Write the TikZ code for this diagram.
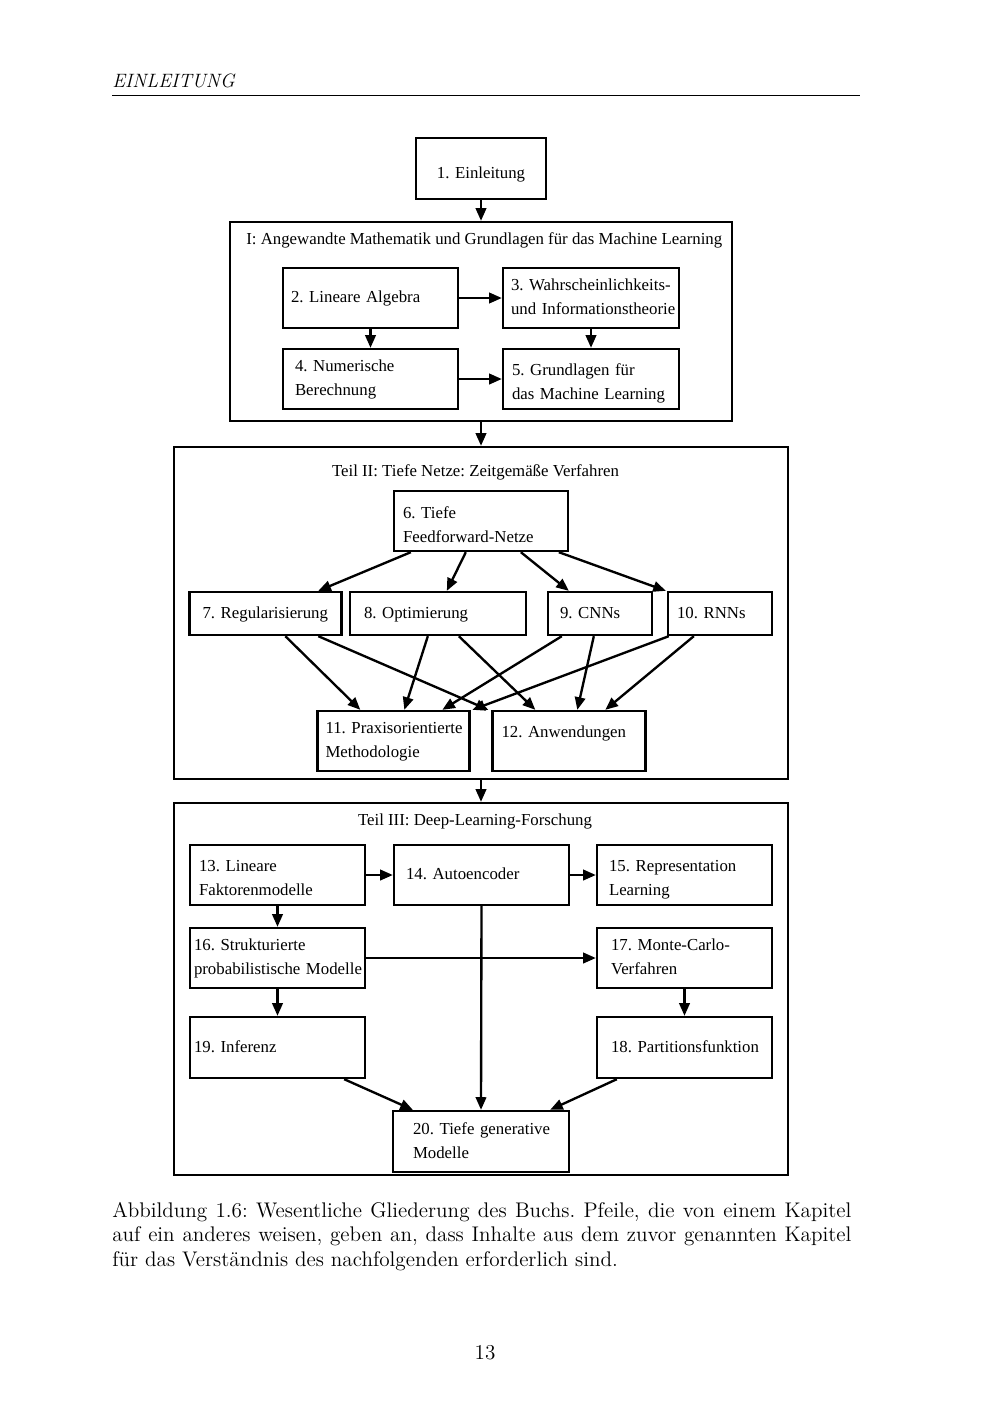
\documentclass[tikz,border=0pt]{standalone}
\usepackage{fontspec}
\newfontfamily\diafont{Liberation Serif}
\usepackage{tikz}
\usetikzlibrary{calc,positioning}
\usetikzlibrary{arrows.meta}
\tikzset{>={Triangle[width=6.2pt,length=7.5pt]}}
\newcommand{\kpx}{0.020916cm}
\frenchspacing

\begin{document}
\begin{tikzpicture}[x=0.020916cm, y=-0.020916cm]
  \tikzstyle{kbox} = [draw, line width=1.4pt, align=left, inner ysep=0pt, font=\diafont\fontsize{10}{14.2}\selectfont]
  \tikzstyle{pframe} = [draw, line width=1.4pt, inner sep=0pt]
  \tikzstyle{ktitle} = [inner sep=0pt, font=\diafont\fontsize{10}{14.2}\selectfont]
  \tikzstyle{karrow} = [->, line width=1.4pt]
  \tikzstyle{ptext} = [inner sep=0pt, font=\fontsize{12.6}{14.8}\selectfont]

  \useasboundingbox (0,0) rectangle (1004,1417);

  % page head
  \node[ptext, anchor=base west, font=\fontsize{11.5}{14}\selectfont\itshape] (kopf) at (112,87) {EINLEITUNG};
  \coordinate (kopfl) at (112,95);
  \coordinate (kopfr) at (860,95);
  \draw[line width=0.4pt] (kopfl) -- (kopfr);

  \node[kbox, align=center, inner xsep=9*\kpx, text width=112*\kpx, minimum height=61*\kpx] (k1) at (481,168.5) {\begin{tabular}{@{}c@{}}\\[-8.2pt]1. Einleitung\end{tabular}};

  % part I
  \node[pframe, minimum width=502*\kpx, minimum height=199*\kpx] (p1) at (481,321.5) {};
  \node[ktitle, anchor=west] (t1) at (246,240) {I: Angewandte Mathematik und Grundlagen für das Machine Learning};
  \node[kbox, inner xsep=8*\kpx, text width=159*\kpx, minimum height=60*\kpx] (k2) at (370.5,298) {\begin{tabular}{@{}l@{}}2. Lineare Algebra\end{tabular}};
  \node[kbox, inner xsep=8*\kpx, text width=160*\kpx, minimum height=60*\kpx] (k3) at (591,298) {\begin{tabular}{@{}l@{}}3. Wahrscheinlichkeits-\\und Informationstheorie\end{tabular}};
  \node[kbox, inner xsep=12*\kpx, text width=151*\kpx, minimum height=60*\kpx] (k4) at (370.5,379) {\begin{tabular}{@{}l@{}}4. Numerische\\Berechnung\end{tabular}};
  \node[kbox, inner xsep=9*\kpx, text width=158*\kpx, minimum height=60*\kpx] (k5) at (591,379) {\begin{tabular}{@{}l@{}}\\[-10pt]5. Grundlagen für\\das Machine Learning\end{tabular}};

  % part II
  \node[pframe, minimum width=614*\kpx, minimum height=332*\kpx] (p2) at (481,613) {};
  \node[ktitle] (t2) at (475.5,472) {Teil II: Tiefe Netze: Zeitgemäße Verfahren};
  \node[kbox, inner xsep=9*\kpx, text width=156*\kpx, minimum height=60*\kpx] (k6) at (481,521) {\begin{tabular}{@{}l@{}}\\[-8.2pt]6. Tiefe\\Feedforward-Netze\end{tabular}};
  \node[kbox, inner xsep=13*\kpx, text width=126*\kpx, minimum height=43*\kpx] (k7) at (265.5,613.5) {\begin{tabular}{@{}l@{}}7. Regularisierung\end{tabular}};
  \node[kbox, inner xsep=14*\kpx, text width=148*\kpx, minimum height=43*\kpx] (k8) at (438,613.5) {\begin{tabular}{@{}l@{}}8. Optimierung\end{tabular}};
  \node[kbox, inner xsep=12*\kpx, text width=80*\kpx, minimum height=43*\kpx] (k9) at (600,613.5) {\begin{tabular}{@{}l@{}}9. CNNs\end{tabular}};
  \node[kbox, inner xsep=9*\kpx, text width=86*\kpx, minimum height=43*\kpx] (k10) at (720,613.5) {\begin{tabular}{@{}l@{}}10. RNNs\end{tabular}};
  \node[kbox, inner xsep=8*\kpx, text width=136*\kpx, minimum height=60*\kpx] (k11) at (393.5,741) {\begin{tabular}{@{}l@{}}11. Praxisorientierte\\Methodologie\end{tabular}};
  \node[kbox, inner xsep=9*\kpx, text width=135*\kpx, minimum height=60*\kpx] (k12) at (569,741) {\begin{tabular}{@{}l@{}}12. Anwendungen\\[-4.8pt]\mbox{}\end{tabular}};

  % part III
  \node[pframe, minimum width=614*\kpx, minimum height=372*\kpx] (p3) at (481,989) {};
  \node[ktitle] (t3) at (475,821) {Teil III: Deep-Learning-Forschung};
  \node[kbox, inner xsep=9*\kpx, text width=157*\kpx, minimum height=60*\kpx] (k13) at (277.5,875) {\begin{tabular}{@{}l@{}}\\[-10pt]13. Lineare\\Faktorenmodelle\end{tabular}};
  \node[kbox, inner xsep=12*\kpx, text width=151*\kpx, minimum height=60*\kpx] (k14) at (481.5,875) {\begin{tabular}{@{}l@{}}14. Autoencoder\end{tabular}};
  \node[kbox, inner xsep=12*\kpx, text width=151*\kpx, minimum height=60*\kpx] (k15) at (684.5,875) {\begin{tabular}{@{}l@{}}\\[-10pt]15. Representation\\Learning\end{tabular}};
  \node[kbox, inner xsep=4*\kpx, text width=167*\kpx, minimum height=60*\kpx] (k16) at (277.5,958) {\begin{tabular}{@{}l@{}}16. Strukturierte\\probabilistische Modelle\end{tabular}};
  \node[kbox, inner xsep=14*\kpx, text width=147*\kpx, minimum height=60*\kpx] (k17) at (684.5,958) {\begin{tabular}{@{}l@{}}17. Monte-Carlo-\\Verfahren\end{tabular}};
  \node[kbox, inner xsep=4*\kpx, text width=167*\kpx, minimum height=61*\kpx] (k19) at (277.5,1047.5) {\begin{tabular}{@{}l@{}}19. Inferenz\end{tabular}};
  \node[kbox, inner xsep=14*\kpx, text width=147*\kpx, minimum height=61*\kpx] (k18) at (684.5,1047.5) {\begin{tabular}{@{}l@{}}18. Partitionsfunktion\end{tabular}};
  \node[kbox, inner xsep=20*\kpx, text width=136*\kpx, minimum height=61*\kpx] (k20) at (481,1141.5) {\begin{tabular}{@{}l@{}}20. Tiefe generative\\Modelle\end{tabular}};

  % edges part I
  \draw[karrow] (k1.south) -- (p1.north);
  \draw[karrow] (k2.east) -- (k3.west);
  \draw[karrow] (k2.south) -- (k4.north);
  \draw[karrow] (k3.south) -- (k5.north);
  \draw[karrow] (k4.east) -- (k5.west);
  \draw[karrow] (p1.south) -- (p2.north);
  \draw[karrow] (p2.south) -- (p3.north);

  % edges part II
  \draw[karrow] ($(k6.south west)+(18,0)$) -- ($(k7.north west)+(130,0)$);
  \draw[karrow] ($(k6.south west)+(73,0)$) -- ($(k8.north west)+(98,0)$);
  \draw[karrow] ($(k6.south west)+(128,0)$) -- ($(k9.north west)+(22,0)$);
  \draw[karrow] ($(k6.south west)+(166,0)$) -- ($(k10.north west)+(-1,0)$);

  \draw[karrow] ($(k7.south west)+(97,0)$) -- ($(k11.north west)+(44,0)$);
  \draw[karrow] ($(k7.south west)+(130,0)$) -- ($(k12.north west)+(-3,0)$);
  \draw[karrow] ($(k8.south west)+(79,0)$) -- ($(k11.north west)+(88,0)$);
  \draw[karrow] ($(k8.south west)+(110,0)$) -- ($(k12.north west)+(44,0)$);
  \draw[karrow] ($(k9.south west)+(15,0)$) -- ($(k11.north west)+(126,0)$);
  \draw[karrow] ($(k9.south west)+(47,0)$) -- ($(k12.north west)+(86,0)$);
  \draw[karrow] ($(k10.south west)+(2,0)$) -- ($(k11.north west)+(156,0)$);
  \draw[karrow] ($(k10.south west)+(27,0)$) -- ($(k12.north west)+(114,0)$);

  % edges part III
  \draw[karrow] (k13.east) -- (k14.west);
  \draw[karrow] (k14.east) -- (k15.west);
  \draw[karrow] (k13.south) -- (k16.north);
  \draw[karrow] (k16.east) -- (k17.west);
  \draw[karrow] (k16.south) -- (k19.north);
  \draw[karrow] (k17.south) -- (k18.north);
  \draw[karrow] (k14.south) -- (k20.north);
  \draw[karrow] ($(k19.south east)+(-22,0)$) -- ($(k20.north west)+(21,0)$);
  \draw[karrow] ($(k18.south west)+(21,0)$) -- ($(k20.north east)+(-20,0)$);

  % caption and page number
  \node[ptext, anchor=base west, text width=739*\kpx, align=justify] (cap) at (112,1217) {Abbildung 1.6: Wesentliche Gliederung des Buchs. Pfeile, die von einem Kapitel\linebreak auf ein anderes weisen, geben an, dass Inhalte aus dem zuvor genannten Kapitel\linebreak für das Verständnis des nachfolgenden erforderlich sind.};
  \node[ptext, anchor=base] (seite) at (485,1359) {13};
\end{tikzpicture}
\end{document}
